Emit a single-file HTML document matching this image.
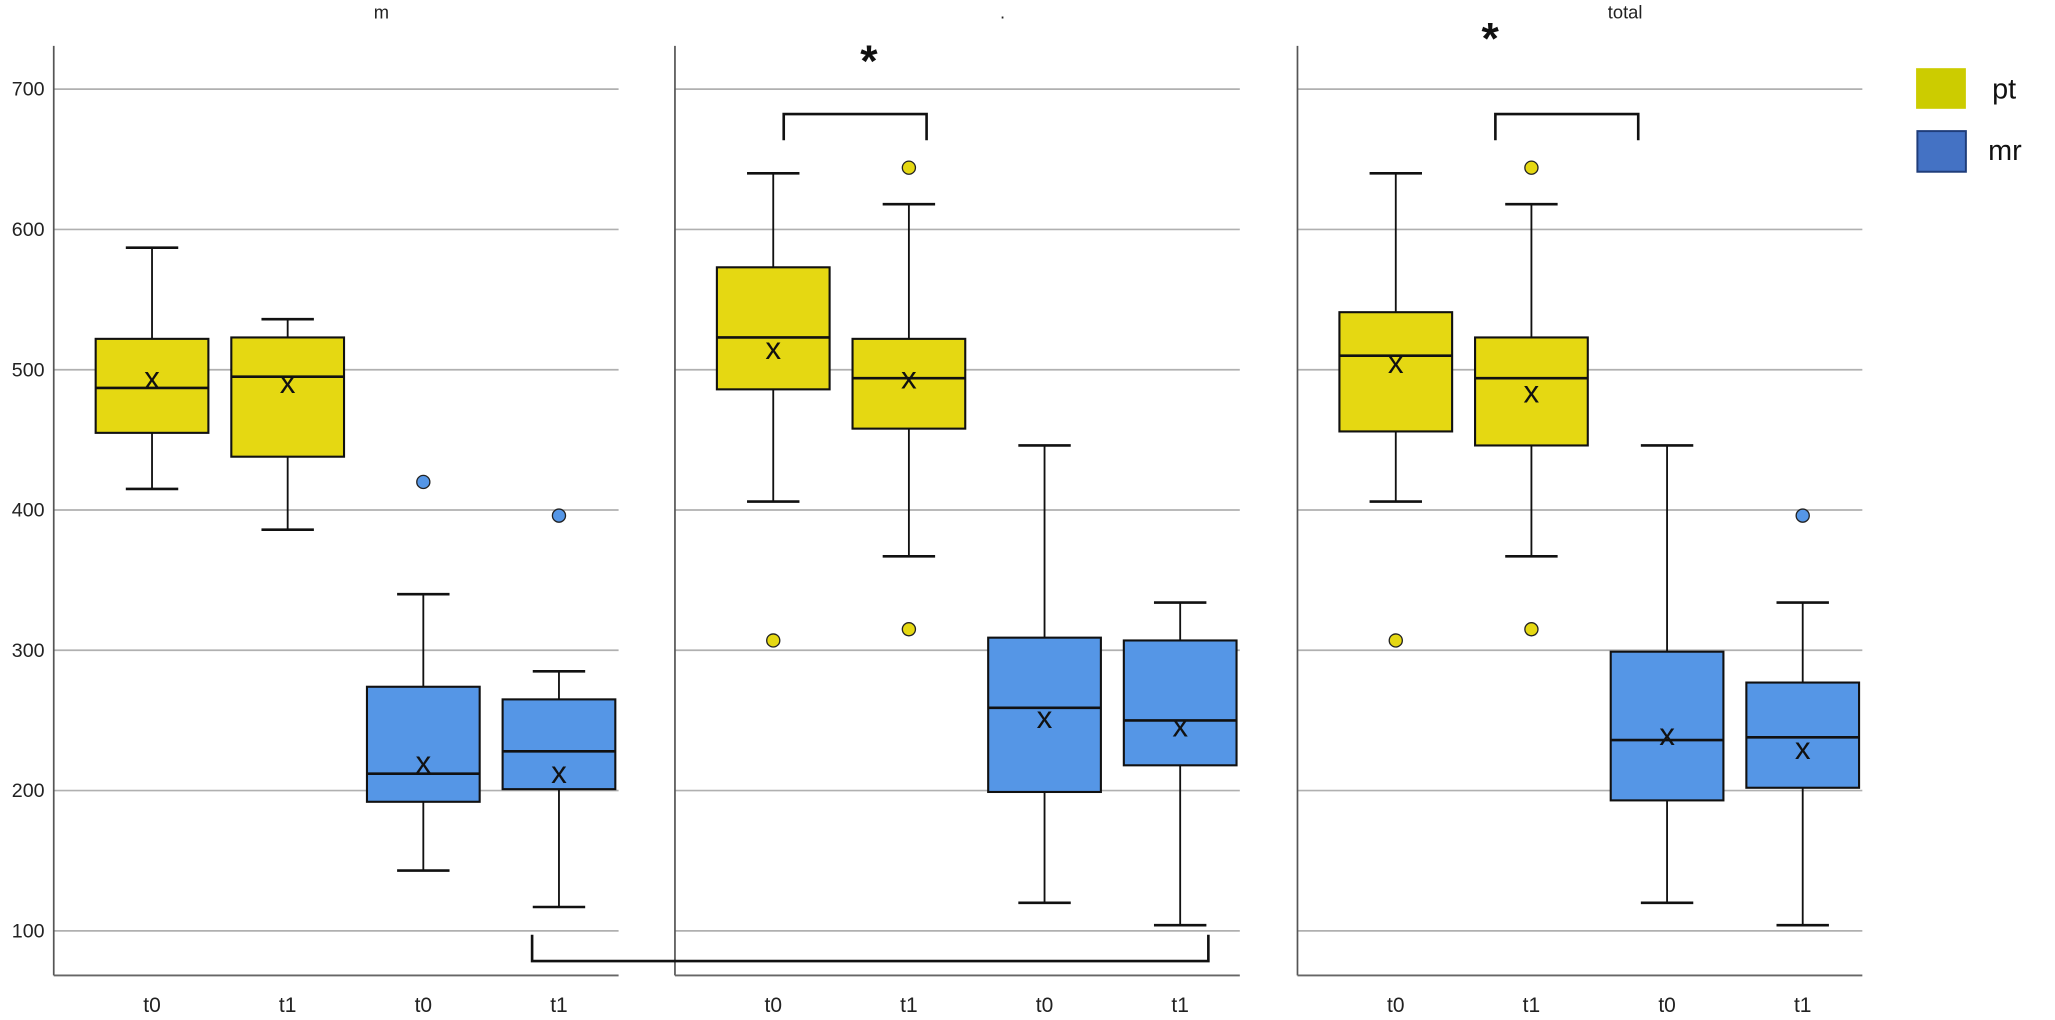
<!DOCTYPE html>
<html><head><meta charset="utf-8"><style>
html,body{margin:0;padding:0;background:#fff;}
svg{display:block;font-family:"Liberation Sans",sans-serif;}
</style></head><body>
<svg id="chart" width="2055" height="1020" viewBox="0 0 1568 778" preserveAspectRatio="none" xmlns="http://www.w3.org/2000/svg">
<g id="g"></g>
</svg>
<script>
const panelTitles = ["m", ".", "total"];
const categories = ["t0", "t1", "t0", "t1"];
const groups = ["pt", "pt", "mr", "mr"];
const yTicks = [100, 200, 300, 400, 500, 600, 700];
// each panel: [whiskerLow, Q1, median, Q3, whiskerHigh, mean] for each box
const panel1Stats = [[415,455,487,522,587,494],[386,438,495,523,536,491],[143,192,212,274,340,220],[117,201,228,265,285,213]];
const panel2Stats = [[406,486,523,573,640,515],[367,458,494,522,618,494],[120,199,259,309,446,252],[104,218,250,307,334,246]];
const panel3Stats = [[406,456,510,541,640,505],[367,446,494,523,618,484],[120,193,236,299,446,240],[104,202,238,277,334,230]];
const panel1Outliers = [[],[],[420],[396]];
const panel2Outliers = [[307],[644,315],[],[]];
const panel3Outliers = [[307],[644,315],[],[396]];

const NS="http://www.w3.org/2000/svg";
const g=document.getElementById('g');
function y(v){return 710-(v-100)*1.07;}
const panelX=[41,515,990], panelW=431;
function xc(p,i){return panelX[p]+75+i*103.5;}
function mk(tag,attrs,parent){const e=document.createElementNS(NS,tag);for(const k in attrs)e.setAttribute(k,attrs[k]);(parent||g).appendChild(e);return e;}
const fill={pt:"#e5d812",mr:"#5596e6"};
const allStats=[panel1Stats,panel2Stats,panel3Stats];
const allOut=[panel1Outliers,panel2Outliers,panel3Outliers];

for(let p=0;p<3;p++){
  const x0=panelX[p];
  for(const t of yTicks){
    const l=mk('line',{x1:x0,x2:x0+panelW,y1:y(t),y2:y(t),stroke:"#b0b0b0","stroke-width":1.3});
    
    
  }
  const ax=mk('line',{x1:x0,x2:x0,y1:35,y2:744,stroke:"#555","stroke-width":1.3});
  
  
  const bx=mk('line',{x1:x0,x2:x0+panelW,y1:744,y2:744,stroke:"#666","stroke-width":1.5});
  
  
  const tt=mk('text',{x:x0+250,y:14,"font-size":14,"text-anchor":"middle",fill:"#222"});
  tt.textContent=panelTitles[p];
  
  
  for(let i=0;i<4;i++){
    const s=allStats[p][i], cx=xc(p,i), w=86, grp=groups[i];
    const wl=mk('line',{x1:cx,x2:cx,y1:y(s[0]),y2:y(s[4]),stroke:"#111","stroke-width":1.4});
    
    
    for(const v of [s[0],s[4]]){
      const c=mk('line',{x1:cx-20,x2:cx+20,y1:y(v),y2:y(v),stroke:"#111","stroke-width":2});
      
      
    }
    const r=mk('rect',{x:cx-w/2,y:y(s[3]),width:w,height:y(s[1])-y(s[3]),fill:fill[grp],stroke:"#111","stroke-width":1.6});
    
    
    const m=mk('line',{x1:cx-w/2,x2:cx+w/2,y1:y(s[2]),y2:y(s[2]),stroke:"#111","stroke-width":2});
    
    
    const mt=mk('text',{x:cx,y:y(s[5])+8,"font-size":24,"text-anchor":"middle",fill:"#111"});
    mt.textContent="x";
    
    
    for(const o of allOut[p][i]){
      const c=mk('circle',{cx:cx,cy:y(o),r:5,fill:fill[grp],stroke:"#222","stroke-width":1});
      
      
    }
    const xl=mk('text',{x:cx,y:772,"font-size":16,"text-anchor":"middle",fill:"#222"});
    xl.textContent=categories[i];
    
    
  }
}
for(const t of yTicks){
  const l=mk('text',{x:34,y:y(t)+5,"font-size":15,"text-anchor":"end",fill:"#222"});
  l.textContent=t;
  
  
}
function bracket(x1,x2,yy,dir,name){
  const b=mk('path',{d:`M${x1},${yy+dir*20} L${x1},${yy} L${x2},${yy} L${x2},${yy+dir*20}`,fill:"none",stroke:"#111","stroke-width":2});
  
  
}
bracket(598,707,87,1,'significance-bracket-panel2');
bracket(1141,1250,87,1,'significance-bracket-panel3');
bracket(406,922,733,-1,'significance-bracket-bottom');
for(const [sx,sy] of [[663,58],[1137,41]]){
  const s=mk('text',{x:sx,y:sy,"font-size":34,"font-weight":"bold","text-anchor":"middle",fill:"#111"});
  s.textContent="*";
  
  
}
const lg=mk('g',{});


const ly=mk('rect',{x:1462,y:52,width:38,height:31,fill:"#cccc00"},lg);


const lb=mk('rect',{x:1463,y:100,width:37,height:31,fill:"#4472c4",stroke:"#1f3d7a","stroke-width":1.5},lg);


const t1=mk('text',{x:1520,y:75,"font-size":22,fill:"#111"},lg);
t1.textContent="pt";


const t2=mk('text',{x:1517,y:122,"font-size":22,fill:"#111"},lg);
t2.textContent="mr";


</script>
</body></html>
